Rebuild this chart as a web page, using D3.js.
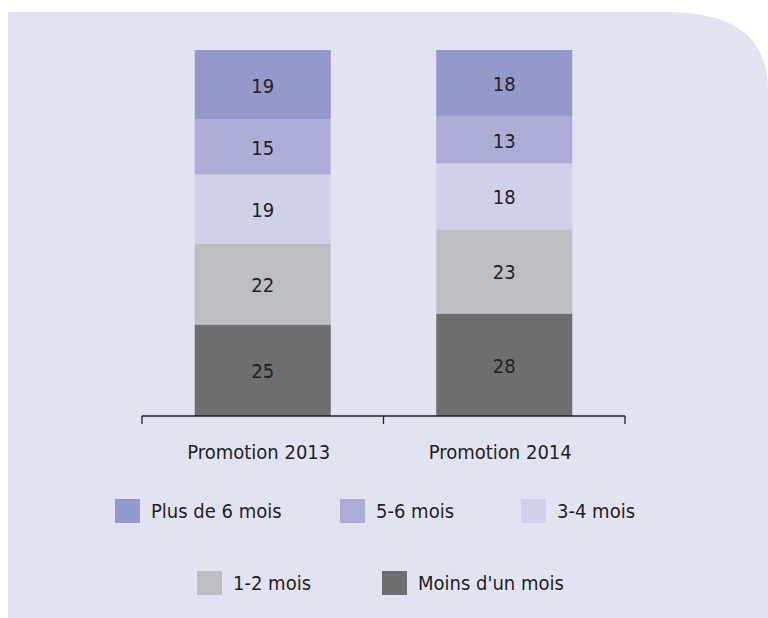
<!DOCTYPE html>
<html>
<head>
<meta charset="utf-8">
<script src="https://cdn.jsdelivr.net/npm/d3@7"></script>
<style>
  body { margin: 0; background: #fff; }
  text { font-family: "DejaVu Sans Condensed", "DejaVu Sans", sans-serif; fill: #231f20; }
</style>
</head>
<body>
<script>
// data
const promotions = ["Promotion 2013", "Promotion 2014"];
const seriesNames = ["Moins d'un mois", "1-2 mois", "3-4 mois", "5-6 mois", "Plus de 6 mois"];
const moinsUnMois = [25, 28];
const unDeuxMois = [22, 23];
const troisQuatreMois = [19, 18];
const cinqSixMois = [15, 13];
const plusSixMois = [19, 18];
const colors = ["#6d6e70", "#bdbec1", "#cfd0ea", "#abadd6", "#9598cb"];

const W = 768, H = 618;
const svg = d3.select("body").append("svg").attr("width", W).attr("height", H);

// panel with rounded top-right corner
svg.append("path")
  .attr("d", "M8,12 L667,12 Q768,12 768,90 L768,618 L8,618 Z")
  .attr("fill", "#e2e3f2");

const rows = promotions.map(function(p, i) {
  return {
    promo: p,
    "Moins d'un mois": moinsUnMois[i],
    "1-2 mois": unDeuxMois[i],
    "3-4 mois": troisQuatreMois[i],
    "5-6 mois": cinqSixMois[i],
    "Plus de 6 mois": plusSixMois[i]
  };
});

const stacked = d3.stack().keys(seriesNames)(rows);

const x = d3.scaleBand().domain(promotions).range([142, 625]).padding(0);
const y = d3.scaleLinear().domain([0, 100]).range([416, 50]);
const barW = 136;
const color = d3.scaleOrdinal().domain(seriesNames).range(colors);

const layers = svg.selectAll("g.layer").data(stacked).enter().append("g")
  .attr("class", "layer")
  .attr("fill", d => color(d.key));

layers.selectAll("rect").data(d => d).enter().append("rect")
  .attr("x", d => x(d.data.promo) + x.bandwidth() / 2 - barW / 2)
  .attr("y", d => y(d[1]))
  .attr("width", barW)
  .attr("height", d => y(d[0]) - y(d[1]));

layers.selectAll("text").data(d => d).enter().append("text")
  .attr("x", d => x(d.data.promo) + x.bandwidth() / 2)
  .attr("y", d => (y(d[0]) + y(d[1])) / 2 + 8)
  .attr("text-anchor", "middle")
  .attr("font-size", 20)
  .text(d => d[1] - d[0]);

// axis
const axis = svg.append("g").attr("stroke", "#231f20").attr("stroke-width", 1.3);
axis.append("line").attr("x1", x.range()[0]).attr("x2", x.range()[1])
  .attr("y1", y(0)).attr("y2", y(0));
const boundaries = [x.range()[0]].concat(promotions.map(p => x(p) + x.bandwidth()));
axis.selectAll("line.tick").data(boundaries).enter().append("line")
  .attr("class", "tick")
  .attr("x1", d => d).attr("x2", d => d)
  .attr("y1", y(0)).attr("y2", y(0) + 8);

svg.selectAll("text.cat").data(promotions).enter().append("text")
  .attr("class", "cat")
  .attr("x", d => x(d) + x.bandwidth() / 2 - 4)
  .attr("y", 459)
  .attr("text-anchor", "middle")
  .attr("font-size", 20)
  .text(d => d);

// legend
const legendItems = [
  { name: "Plus de 6 mois", x: 115, y: 499 },
  { name: "5-6 mois", x: 340, y: 499 },
  { name: "3-4 mois", x: 521, y: 499 },
  { name: "1-2 mois", x: 197, y: 571 },
  { name: "Moins d'un mois", x: 382, y: 571 }
];
const lg = svg.selectAll("g.leg").data(legendItems).enter().append("g")
  .attr("transform", d => "translate(" + d.x + "," + d.y + ")");
lg.append("rect").attr("width", 25).attr("height", 24).attr("fill", d => color(d.name));
lg.append("text").attr("x", 36).attr("y", 19).attr("font-size", 20).text(d => d.name);
</script>
</body>
</html>
